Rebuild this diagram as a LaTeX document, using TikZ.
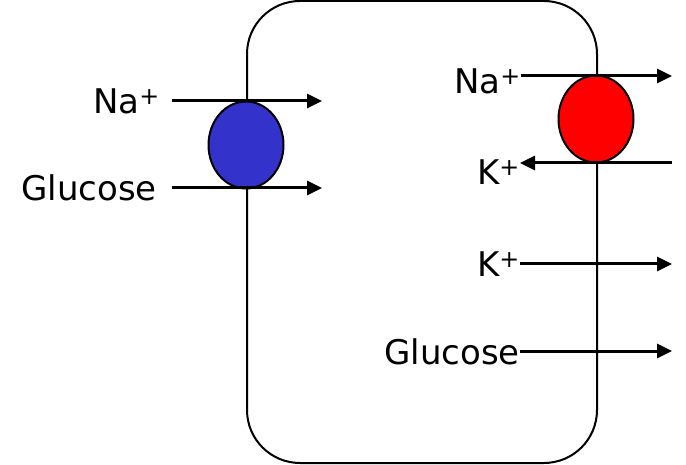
\documentclass[tikz,border=0pt]{standalone}
\usepackage{fontspec}
\setmainfont{DejaVu Sans}
\usetikzlibrary{shapes.geometric,arrows.meta}

\begin{document}
\begin{tikzpicture}[x=1pt,y=-1pt,
  lab/.style={font=\fontsize{34}{40}\selectfont, inner sep=0pt, anchor=east},
  flow/.style={line width=3pt, -{Triangle[length=15pt,width=14pt]}},
  pump/.style={ellipse, draw, line width=2pt, minimum width=75pt,
    minimum height=87pt, inner sep=0pt}]
\useasboundingbox (0,0) rectangle (686,465);
\draw[line width=2pt, rounded corners=53pt] (247,1) rectangle (597,463) ;
\node[pump, fill={rgb,255:red,51;green,51;blue,204}] (PL) at (246,145) {} ;
\node[pump, fill=red] (PR) at (596,119) {} ;
\node[lab] (NaL) at (160,101) {Na\textsuperscript{+}} ;
\node[lab] (GlcL) at (157,188) {Glucose} ;
\node[lab] (NaR) at (521,81) {Na\textsuperscript{+}} ;
\node[lab] (KR) at (520,172) {K\textsuperscript{+}} ;
\node[lab] (KR2) at (520,264) {K\textsuperscript{+}} ;
\node[lab] (GlcR) at (520,352) {Glucose} ;
\coordinate (NaIn) at (322,101) ;
\coordinate (GlcIn) at (322,188) ;
\coordinate (NaOut) at (672,76) ;
\coordinate (KOut) at (672,163) ;
\coordinate (KEnd) at (672,264) ;
\coordinate (GlcEnd) at (672,351) ;
\draw[flow] ([xshift=12pt]NaL.east) -- (NaIn) ;
\draw[flow] ([xshift=15pt]GlcL.east |- GlcIn) -- (GlcIn) ;
\draw[flow] (NaR.east |- NaOut) -- (NaOut) ;
\draw[flow] (KOut) -- (KR.east |- KOut) ;
\draw[flow] (KR2.east) -- (KEnd) ;
\draw[flow] (GlcR.east |- GlcEnd) -- (GlcEnd) ;
\end{tikzpicture}
\end{document}
